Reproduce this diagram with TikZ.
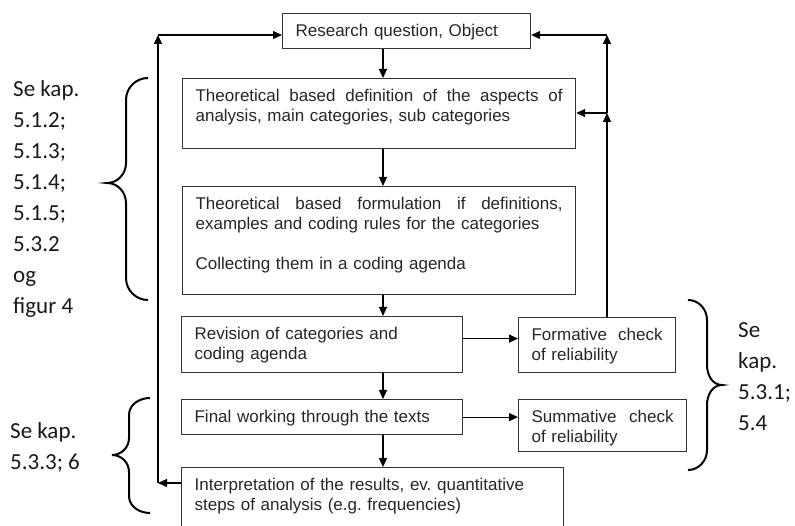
\documentclass[tikz,border=0pt]{standalone}
\usepackage{fontspec}
\setmainfont{Liberation Sans}
\newfontfamily\calfont{Carlito}
\usetikzlibrary{arrows.meta}
\frenchspacing
\newcommand{\fullline}[2]{\hbox to #1{#2}}
\tikzset{
  box/.style={draw=black!80, line width=1.2pt, anchor=north west, inner xsep=13pt, inner ysep=8pt,
    text height=15pt, align=left, text=black!85, font=\fontsize{17}{20}\selectfont},
  note/.style={anchor=north west, inner sep=0pt, align=left, text=black!90,
    font=\calfont\fontsize{23}{31}\selectfont},
  link/.style={->, line width=1.2pt},
  curly/.style={line width=2pt},
  >={Triangle[length=9pt,width=8pt]}
}
\begin{document}
\begin{tikzpicture}[x=1pt,y=1pt]
\useasboundingbox (0,0) rectangle (795,-526); %page frame
\node[box, text width=222pt, text depth=4pt] (research) at (282,-13) {Research question, Object}; %top box
\node[box, text width=367pt, text depth=39pt] (defn) at (182,-78) {\fullline{367pt}{Theoretical\hfill based\hfill definition\hfill of\hfill the\hfill aspects\hfill of}\\analysis, main categories, sub categories}; %definition box
\node[box, text width=367pt, text depth=77pt] (formul) at (182,-186) {\fullline{367pt}{Theoretical\hfill based\hfill formulation\hfill if\hfill definitions,}\\examples and coding rules for the categories\\[20pt]Collecting them in a coding agenda}; %formulation box
\node[box, text width=255pt, text depth=25pt] (revise) at (181,-316) {Revision of categories and\\coding agenda}; %revision box
\node[box, text width=255pt, text depth=4pt] (final) at (181,-399) {Final working through the texts}; %final box
\node[box, text width=356pt, text depth=49pt] (interp) at (181,-467) {Interpretation of the results, ev. quantitative\\steps of analysis (e.g. frequencies)}; %interpretation box
\node[box, text width=131pt, text depth=24pt] (formative) at (518,-317) {\fullline{131pt}{Formative\hfill check}\\of reliability}; %formative check
\node[box, text width=142pt, text depth=21pt] (summative) at (518,-399) {\fullline{142pt}{Summative\hfill check}\\of reliability}; %summative check
\coordinate (spine) at (383,0); %line of the main arrows
\coordinate (rjoin) at (607,-113); %right loop, lower corner
\coordinate (rtop) at (607,-35); %right loop, top corner
\coordinate (ljoin) at (158,-483); %left loop, lower corner
\coordinate (ltop) at (158,-35); %left loop, top corner
\draw[link] (research.south -| spine) -- (defn.north -| spine);
\draw[link] (defn.south -| spine) -- (formul.north -| spine);
\draw[link] (formul.south -| spine) -- (revise.north -| spine);
\draw[link] (revise.south -| spine) -- (final.north -| spine);
\draw[link] (final.south -| spine) -- (interp.north -| spine);
\draw[link] ([yshift=6pt]revise.east) -- ([yshift=6pt]revise.east -| formative.west); %to formative check
\draw[link] (final.east) -- (final.east -| summative.west); %to summative check
\draw[link] (formative.north -| rjoin) -- (rjoin); %right loop up
\draw[link] (rjoin) -- (rjoin -| defn.east); %back to definition
\draw[link] (rjoin) -- (rtop); %right loop further up
\draw[link] (rtop) -- (rtop -| research.east); %back to question
\draw[link] (interp.west |- ljoin) -- (ljoin); %left loop out
\draw[link] (ljoin) -- (ltop); %left loop up
\draw[link] (ltop) -- (research.west |- ltop); %back to question
\draw[curly] (148,-78) to [out=180, in=90] (126,-100) -- (126,-163) to [out=270, in=0] (107,-183)
  to [out=0, in=90] (126,-203) -- (126,-278) to [out=270, in=180] (148,-300); %upper left brace
\draw[curly] (150,-398) to [out=180, in=90] (129,-415) -- (129,-438) to [out=270, in=0] (112,-455)
  to [out=0, in=90] (129,-472) -- (129,-496) to [out=270, in=180] (150,-513); %lower left brace
\draw[curly] (688,-300) to [out=0, in=90] (707,-320) -- (707,-365) to [out=270, in=180] (722,-385)
  to [out=180, in=90] (707,-405) -- (707,-450) to [out=270, in=0] (688,-470); %right brace
\node[note] (notea) at (13,-80) {Se kap.\\5.1.2;\\5.1.3;\\5.1.4;\\5.1.5;\\5.3.2\\og\\figur 4};
\node[note] (noteb) at (738,-322) {Se\\kap.\\5.3.1;\\5.4};
\node[note] (notec) at (10,-422) {Se kap.\\5.3.3; 6};
\end{tikzpicture}
\end{document}
